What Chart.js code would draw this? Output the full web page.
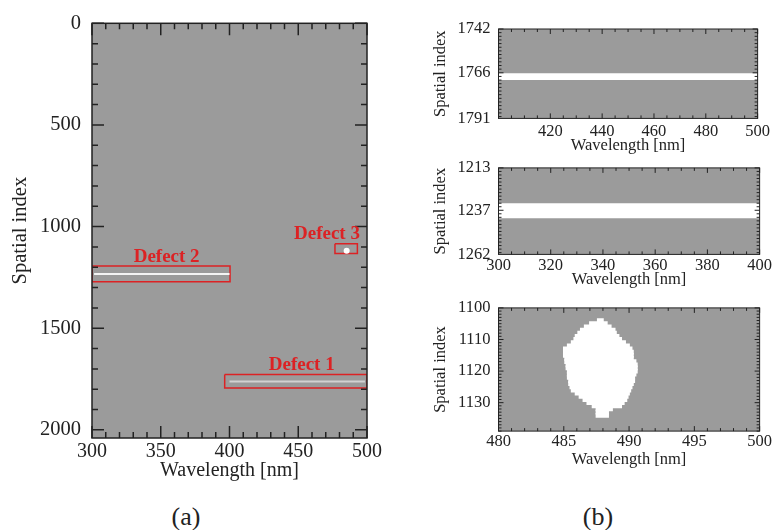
<!DOCTYPE html>
<html>
<head>
<meta charset="utf-8">
<script src="https://cdn.jsdelivr.net/npm/chart.js@4.4.1/dist/chart.umd.min.js"></script>
<style>
  body { margin: 0; background: #fff; }
  #wrap { position: relative; width: 773px; height: 530px; font-family: "Liberation Serif", serif; color: #222; }
  canvas { position: absolute; }
  .cap { position: absolute; font-size: 26px; transform: translate(-50%, -50%); }
</style>
</head>
<body>
<div id="wrap">
  <canvas id="chartA" width="390" height="500" style="left:0;top:0"></canvas>
  <canvas id="chartB1" width="353" height="160" style="left:420px;top:0"></canvas>
  <canvas id="chartB2" width="353" height="150" style="left:420px;top:150px"></canvas>
  <canvas id="chartB3" width="353" height="200" style="left:420px;top:290px"></canvas>
  <div class="cap" style="left:186px;top:517px">(a)</div>
  <div class="cap" style="left:598px;top:517px">(b)</div>
</div>
<script>
// (a) full frame
const overviewXTicks = [300, 350, 400, 450, 500];
const overviewYTicks = [0, 500, 1000, 1500, 2000];
const defectNames = ['Defect 1', 'Defect 2', 'Defect 3'];
const defectBoxX = [[396.5, 500], [300, 400.4], [476.7, 493]];
const defectBoxY = [[1728, 1794], [1194, 1271], [1084, 1133]];
const defectLabelX = [452.5, 354.3, 470.9];
const defectLabelY = [1680, 1149, 1035];
const stripeX = [[400, 498.5], [301.5, 400]];
const stripeY = [1762, 1233];
const stripeColors = ['#d2d2d2', '#f4f4f4'];
const spotX = [485.2];
const spotY = [1119];

// (b) zoomed defects
const d1XTicks = [420, 440, 460, 480, 500];
const d1YTicks = [1742, 1766, 1791];
const d1Band = [1766.3, 1770];
const d2XTicks = [300, 320, 340, 360, 380, 400];
const d2YTicks = [1213, 1237, 1262];
const d2Band = [1233, 1241.5];
const d3XTicks = [480, 485, 490, 495, 500];
const d3YTicks = [1100, 1110, 1120, 1130];
const d3Rows = [1104, 1105, 1106, 1107, 1108, 1109, 1110, 1111, 1112, 1113, 1114, 1115, 1116, 1117, 1118, 1119,
  1120, 1121, 1122, 1123, 1124, 1125, 1126, 1127, 1128, 1129, 1130, 1131, 1132, 1133, 1134];
const d3Left = [487.6, 487.0, 486.6, 486.3, 486.1, 485.9, 485.8, 485.6, 485.3, 485.0, 485.0, 485.0, 485.1, 485.1, 485.2, 485.2,
  485.3, 485.3, 485.3, 485.4, 485.4, 485.5, 485.6, 485.9, 486.2, 486.5, 486.8, 487.2, 487.5, 487.5, 487.5];
const d3Right = [488.0, 488.3, 488.6, 488.9, 489.0, 489.2, 489.4, 489.7, 490.0, 490.2, 490.3, 490.3, 490.3, 490.5, 490.6, 490.6,
  490.6, 490.5, 490.4, 490.4, 490.3, 490.2, 490.1, 490.0, 489.9, 489.8, 489.6, 489.4, 488.7, 488.4, 488.4];

const GRAY = '#9b9b9b';
const RED = '#dc2224';
Chart.defaults.font.family = '"Liberation Serif", serif';
Chart.defaults.color = '#222';

// gray image background, frame and inward ticks on all four sides
const frameTicks = {
  id: 'frameTicks',
  beforeDatasetsDraw(chart) {
    const a = chart.chartArea;
    chart.ctx.save();
    chart.ctx.fillStyle = GRAY;
    chart.ctx.fillRect(a.left, a.top, a.right - a.left, a.bottom - a.top);
    chart.ctx.restore();
  },
  afterDatasetsDraw(chart, args, opts) {
    const { ctx, chartArea: a, scales: { x, y } } = chart;
    ctx.save();
    ctx.strokeStyle = '#222';
    ctx.lineWidth = opts.width;
    ctx.beginPath();
    const majX = x.ticks.map(t => t.value);
    const nx = Math.round((x.max - x.min) / opts.xMinor);
    for (let i = 0; i <= nx; i++) {
      const v = x.min + i * opts.xMinor;
      const px = x.getPixelForValue(v);
      const len = majX.some(m => Math.abs(m - v) < 1e-6) ? opts.major : opts.minor;
      ctx.moveTo(px, a.bottom); ctx.lineTo(px, a.bottom - len);
      ctx.moveTo(px, a.top); ctx.lineTo(px, a.top + len);
    }
    const majY = y.ticks.map(t => t.value);
    const ny = Math.floor((y.max - y.min) / opts.yMinor);
    for (let i = 0; i <= ny; i++) {
      const v = y.min + i * opts.yMinor;
      const py = y.getPixelForValue(v);
      const len = majY.some(m => Math.abs(m - v) < 1e-6) ? opts.major : opts.minor;
      ctx.moveTo(a.left, py); ctx.lineTo(a.left + len, py);
      ctx.moveTo(a.right, py); ctx.lineTo(a.right - len, py);
    }
    ctx.stroke();
    ctx.strokeRect(a.left, a.top, a.right - a.left, a.bottom - a.top);
    ctx.restore();
  }
};

// red captions above the defect boxes
const defectLabels = {
  id: 'defectLabels',
  afterDatasetsDraw(chart) {
    const { ctx, scales: { x, y } } = chart;
    ctx.save();
    ctx.fillStyle = RED;
    ctx.font = 'bold 19px "Liberation Serif", serif';
    ctx.textAlign = 'center';
    ctx.textBaseline = 'middle';
    defectNames.forEach((name, i) => {
      ctx.fillText(name, x.getPixelForValue(defectLabelX[i]), y.getPixelForValue(defectLabelY[i]));
    });
    ctx.restore();
  }
};

function xAxis(ticks, min, max, size, height, pad) {
  return {
    type: 'linear', min: min, max: max, offset: false,
    grid: { display: false, drawTicks: false, offset: false }, border: { display: false },
    afterBuildTicks: s => { s.ticks = ticks.map(v => ({ value: v })); },
    afterFit: s => { s.height = height; },
    ticks: { padding: pad, font: { size: size }, maxRotation: 0, autoSkip: false, callback: v => String(v) },
    title: { display: true, text: 'Wavelength [nm]', font: { size: size }, padding: { top: 0, bottom: 0 } }
  };
}

function yAxis(ticks, min, max, size, width, pad, titlePad) {
  return {
    type: 'linear', min: min, max: max, reverse: true, offset: false,
    grid: { display: false, drawTicks: false, offset: false }, border: { display: false },
    afterBuildTicks: s => { s.ticks = ticks.map(v => ({ value: v })); },
    afterFit: s => { s.width = width; },
    ticks: { padding: pad, font: { size: size }, autoSkip: false, callback: v => String(v) },
    title: { display: true, text: 'Spatial index', font: { size: size }, padding: { top: titlePad, bottom: 0 } }
  };
}

function baseOptions(scales, padding, ticksOpts) {
  return {
    responsive: false,
    animation: false,
    layout: { padding: padding },
    plugins: { legend: { display: false }, tooltip: { enabled: false }, frameTicks: ticksOpts },
    scales: scales
  };
}

function lineSet(points, color, width) {
  return { type: 'line', data: points, borderColor: color, borderWidth: width, pointRadius: 0, fill: false, tension: 0 };
}

// (a)
const aSets = [];
stripeY.forEach((yv, i) => {
  aSets.push(lineSet([{ x: stripeX[i][0], y: yv }, { x: stripeX[i][1], y: yv }], stripeColors[i], 2));
});
aSets.push({
  type: 'scatter', data: spotX.map((v, i) => ({ x: v, y: spotY[i] })),
  pointRadius: 3, pointBackgroundColor: '#fff', pointBorderWidth: 0
});
defectBoxX.forEach((bx, i) => {
  const by = defectBoxY[i];
  aSets.push(lineSet([
    { x: bx[0], y: by[0] }, { x: bx[1], y: by[0] }, { x: bx[1], y: by[1] },
    { x: bx[0], y: by[1] }, { x: bx[0], y: by[0] }
  ], RED, 1.5));
});
new Chart(document.getElementById('chartA'), {
  type: 'scatter',
  data: { datasets: aSets },
  options: baseOptions({
    x: xAxis(overviewXTicks, 300, 500, 20, 45, 2),
    y: yAxis(overviewYTicks, 0, 2040, 20.5, 92, 11, 8)
  }, { top: 21, right: 23, bottom: 17, left: 0 },
  { width: 1.5, xMinor: 10, yMinor: 100, major: 12, minor: 6 }),
  plugins: [frameTicks, defectLabels]
});

// (b) stripe panels
function bandChart(id, band, xTicks, xMin, xMax, yTicks, yMin, yMax, padding, xHeight, xPad) {
  const top = lineSet([{ x: xMin, y: band[0] }, { x: xMax, y: band[0] }], 'rgba(0,0,0,0)', 0);
  const bottom = lineSet([{ x: xMin, y: band[1] }, { x: xMax, y: band[1] }], 'rgba(0,0,0,0)', 0);
  bottom.fill = '-1';
  bottom.backgroundColor = '#fff';
  new Chart(document.getElementById(id), {
    type: 'scatter',
    data: { datasets: [top, bottom] },
    options: baseOptions({
      x: xAxis(xTicks, xMin, xMax, 16.5, xHeight, xPad),
      y: yAxis(yTicks, yMin, yMax, 16.5, 78.5, 8, 11)
    }, padding, { width: 1, xMinor: 5, yMinor: 2, major: 5, minor: 3 }),
    plugins: [frameTicks]
  });
}
bandChart('chartB1', d1Band, d1XTicks, 400, 500, d1YTicks, 1742, 1791,
  { top: 29, right: 12.5, bottom: 4, left: 0 }, 37.6, 3);
bandChart('chartB2', d2Band, d2XTicks, 300, 400, d2YTicks, 1213, 1262,
  { top: 15.7, right: 12.5, bottom: 10, left: 0 }, 35.6, 1);

// (b) spot defect, one white span per spatial row
new Chart(document.getElementById('chartB3'), {
  type: 'bar',
  data: {
    datasets: [{
      data: d3Rows.map((r, i) => ({ y: r, x: [d3Left[i], d3Right[i]] })),
      backgroundColor: '#fff', borderWidth: 0, barPercentage: 1, categoryPercentage: 1,
      inflateAmount: 0.8
    }]
  },
  options: Object.assign(baseOptions({
    x: xAxis(d3XTicks, 480, 500, 16.5, 38.9, 1),
    y: yAxis(d3YTicks, 1100, 1139, 16.5, 78.5, 8, 11)
  }, { top: 14.3, right: 12.5, bottom: 20, left: 0 },
  { width: 1, xMinor: 1, yMinor: 1, major: 5, minor: 3 }), { indexAxis: 'y' }),
  plugins: [frameTicks]
});
</script>
</body>
</html>
